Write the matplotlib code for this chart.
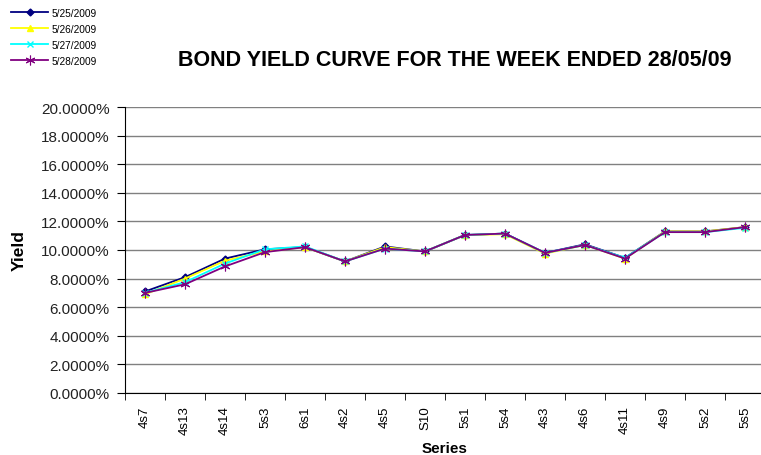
import matplotlib.pyplot as plt
from matplotlib.ticker import PercentFormatter, FixedLocator

plt.rcParams['font.family'] = ['Liberation Sans', 'DejaVu Sans']

# bond series on the x axis
series = ['4s7', '4s13', '4s14', '5s3', '6s1', '4s2', '4s5', 'S10',
          '5s1', '5s4', '4s3', '4s6', '4s11', '4s9', '5s2', '5s5']

# yields in percent for each trading day
y_0525 = [7.10, 8.10, 9.40, 10.05, 10.20, 9.20, 10.25, 9.90,
          11.05, 11.15, 9.80, 10.40, 9.45, 11.30, 11.30, 11.60]
y_0526 = [6.90, 8.00, 9.25, 9.90, 10.20, 9.20, 10.20, 9.90,
          11.05, 11.10, 9.75, 10.35, 9.40, 11.30, 11.30, 11.60]
y_0527 = [7.00, 7.75, 9.05, 10.05, 10.25, 9.20, 10.10, 9.90,
          11.05, 11.15, 9.80, 10.35, 9.45, 11.25, 11.25, 11.55]
y_0528 = [7.00, 7.60, 8.85, 9.85, 10.20, 9.20, 10.10, 9.90,
          11.05, 11.15, 9.80, 10.35, 9.40, 11.25, 11.25, 11.60]

dates = ['5/25/2009', '5/26/2009', '5/27/2009', '5/28/2009']

fig = plt.figure(figsize=(7.61, 4.56), dpi=100)
ax = fig.add_axes([125 / 761, 62 / 456, 640 / 761, 286 / 456])

x = list(range(len(series)))
lines = []
lines += ax.plot(x, y_0525, color='#000080', marker='D', markersize=3.5, lw=1.3)
lines += ax.plot(x, y_0526, color='#FFFF00', marker='^', markersize=5, lw=1.3)
lines += ax.plot(x, y_0527, color='#00FFFF', marker='x', markersize=5, mew=1, lw=1.3)
lines += ax.plot(x, y_0528, color='#800080', marker=(6, 2, 0), markersize=7, mew=0.8, lw=1.3)

ax.set_xlim(-0.5, len(series) - 0.5)
ax.set_ylim(0, 20)
ax.set_yticks(range(0, 21, 2))
ax.yaxis.set_major_formatter(PercentFormatter(xmax=100, decimals=4))
ax.grid(axis='y', color='#808080', lw=1)
ax.set_axisbelow(True)

ax.set_xticks(x)
ax.set_xticklabels(series, rotation=90, fontsize=9.5)
ax.xaxis.set_minor_locator(FixedLocator([i - 0.5 for i in range(len(series) + 1)]))
ax.tick_params(axis='x', which='major', length=0, pad=9)
ax.tick_params(axis='x', which='minor', length=5, direction='out')
ax.tick_params(axis='y', length=6, direction='out', pad=5, labelsize=11, labelcolor='#222222')

for s in ['top', 'right']:
    ax.spines[s].set_visible(False)

ax.set_ylabel('Yield', fontsize=12.5, fontweight='bold', labelpad=10)
ax.set_xlabel('Series', fontsize=11, fontweight='bold', labelpad=5)

fig.text(455 / 761, 1 - 60 / 456, 'BOND YIELD CURVE FOR THE WEEK ENDED 28/05/09',
         ha='center', va='center', fontsize=15.5, fontweight='bold')

fig.legend(lines, dates, loc='upper left', bbox_to_anchor=(11 / 761, 1 - 9 / 456),
           frameon=False, fontsize=7.3, handlelength=3.65, labelspacing=0.58,
           handletextpad=0.4, borderaxespad=0, borderpad=0)

fig.savefig('out.png', dpi=100)
